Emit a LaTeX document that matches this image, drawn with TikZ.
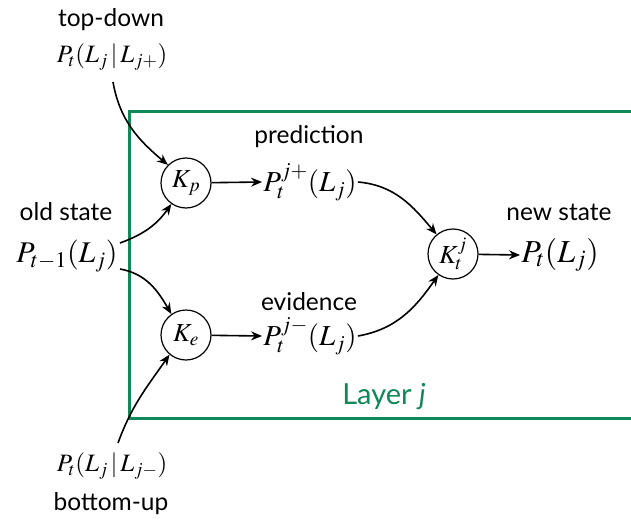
\documentclass[tikz,border=0pt]{standalone}
\usepackage{mathptmx}
\usepackage{fontspec}
\setmainfont{Lato}
\usetikzlibrary{arrows.meta}
\definecolor{layergreen}{RGB}{16,136,88}
\tikzset{
  lbl/.style={font=\fontsize{24.5}{28}\selectfont, inner sep=0pt},
  fsmall/.style={font=\fontsize{25}{29}\selectfont, inner sep=1pt},
  fbig/.style={font=\fontsize{30}{34}\selectfont, inner sep=1pt},
  kcirc/.style={draw, circle, line width=1.2pt, minimum size=50pt, inner sep=0pt, font=\fontsize{26}{30}\selectfont},
  conn/.style={line width=1.6pt, -{Stealth[length=11pt,width=9pt]}},
}
\begin{document}
\begin{tikzpicture}[x=1pt,y=-1pt]
\useasboundingbox (0,0) rectangle (631,519);
% layer
\draw[layergreen, line width=3pt] (640,111) -- (129,111) -- (129,418) -- (640,418);
\node[inner sep=0pt, text=layergreen, font=\fontsize{29}{33}\selectfont] (layer) at (384,397) {Layer \textit{j}};
% texts
\node[lbl] (td) at (111,20) {top-down};
\node[fsmall] (ptop) at (112,57) {$P_t(L_j\,|\,L_{j+})$};
\node[lbl] (os) at (66,212) {old state};
\node[fbig] (pold) at (67,256) {$P_{t-1}(L_j)$};
\node[kcirc] (kp) at (186,183) {$K_p$};
\node[kcirc] (ke) at (186,335) {$K_e$};
\node[kcirc] (kt) at (453,254) {$K_t^j$};
\node[lbl] (pr) at (309,137) {prediction};
\node[fsmall, font=\fontsize{29}{33}\selectfont] (ppred) at (310,182) {$P_t^{j+}(L_j)$};
\node[lbl] (ev) at (309,302) {evidence};
\node[fsmall, font=\fontsize{29}{33}\selectfont] (pev) at (310,336) {$P_t^{j-}(L_j)$};
\node[lbl] (ns) at (559,212) {new state};
\node[fbig, font=\fontsize{32}{36}\selectfont] (pnew) at (560,255) {$P_t(L_j)$};
\node[fsmall] (pbot) at (112,466) {$P_t(L_j\,|\,L_{j-})$};
\node[lbl] (bu) at (111,504) {bottom-up};
% connector end points next to the formulas
\coordinate (c1) at (113,82);
\coordinate (c2) at (120,243);
\coordinate (c3) at (120,269);
\coordinate (c4) at (118,443);
% connectors
\draw[conn] (c1) to[out=-80,in=140] (kp.135);
\draw[conn] (c2) to[out=20,in=-125] (kp.-125);
\draw[conn] (c3) to[out=-10,in=120] (ke.125);
\draw[conn] (c4) to[out=70,in=-125] (ke.-130);
\draw[conn] (kp) -- (ppred.west);
\draw[conn] (ke) -- (pev.west);
\draw[conn] (ppred.east) to[out=-5,in=130] (kt.130);
\draw[conn] (pev.east) to[out=10,in=-125] (kt.-125);
\draw[conn] (kt) -- (pnew.west);
\end{tikzpicture}
\end{document}
